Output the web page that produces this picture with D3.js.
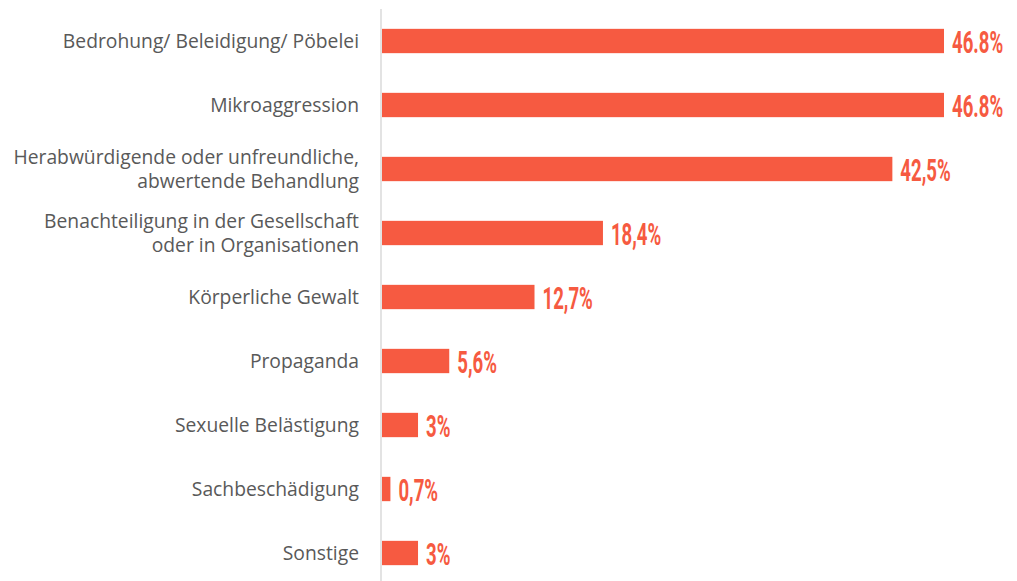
<!DOCTYPE html>
<html>
<head>
<meta charset="utf-8">
<script src="https://d3js.org/d3.v7.min.js"></script>
<style>
  * { margin:0; padding:0; }
  body { background:#fff; width:1017px; height:581px; overflow:hidden; }
  .cat { font-family:"Open Sans", "Noto Sans", sans-serif; font-size:19.3px; fill:#595959; }
  .val { font-family:Roboto, "DejaVu Sans", sans-serif; font-weight:700; font-size:31px; fill:#f65a41; }
</style>
</head>
<body>
<div id="chart"></div>
<script>
// data
const categories = [
  ["Bedrohung/ Beleidigung/ Pöbelei"],
  ["Mikroaggression"],
  ["Herabwürdigende oder unfreundliche,", "abwertende Behandlung"],
  ["Benachteiligung in der Gesellschaft", "oder in Organisationen"],
  ["Körperliche Gewalt"],
  ["Propaganda"],
  ["Sexuelle Belästigung"],
  ["Sachbeschädigung"],
  ["Sonstige"]
];
const values = [46.8, 46.8, 42.5, 18.4, 12.7, 5.6, 3, 0.7, 3];
const valueLabels = ["46.8%", "46.8%", "42,5%", "18,4%", "12,7%", "5,6%", "3%", "0,7%", "3%"];

const width = 1017, height = 581;
const x0 = 381;

const svg = d3.select("#chart").append("svg")
  .attr("width", width).attr("height", height);

const x = d3.scaleLinear().domain([0, 46.8]).range([x0 + 1, 944]);
const y = d3.scaleBand()
  .domain(d3.range(values.length))
  .range([9, 585])
  .paddingInner(0.62)
  .paddingOuter(0.31);

// axis line
svg.append("line")
  .attr("x1", x0).attr("x2", x0)
  .attr("y1", 9).attr("y2", height)
  .attr("stroke", "#d4d4d4").attr("stroke-width", 1.3);

svg.selectAll("rect.bar")
  .data(values)
  .join("rect")
  .attr("class", "bar")
  .attr("x", x(0))
  .attr("y", (d, i) => y(i))
  .attr("width", d => x(d) - x(0))
  .attr("height", y.bandwidth())
  .attr("fill", "#f65a41");

// category labels
const cats = svg.selectAll("text.cat")
  .data(categories)
  .join("text")
  .attr("class", "cat")
  .attr("text-anchor", "end")
  .attr("transform", (d, i) => `translate(359, ${y(i) + y.bandwidth() / 2})`);

cats.selectAll("tspan")
  .data(d => d.map((t, j) => ({t, j, n: d.length})))
  .join("tspan")
  .attr("x", 0)
  .attr("y", d => (d.j - (d.n - 1) / 2) * 24.5)
  .attr("dy", "0.35em")
  .text(d => d.t);

// value labels (condensed)
svg.selectAll("text.val")
  .data(values)
  .join("text")
  .attr("class", "val")
  .attr("transform", (d, i) => `translate(${x(d) + 8}, ${y(i) + y.bandwidth() / 2 + 11.5}) scale(0.6, 1)`)
  .text((d, i) => valueLabels[i]);
</script>
</body>
</html>
